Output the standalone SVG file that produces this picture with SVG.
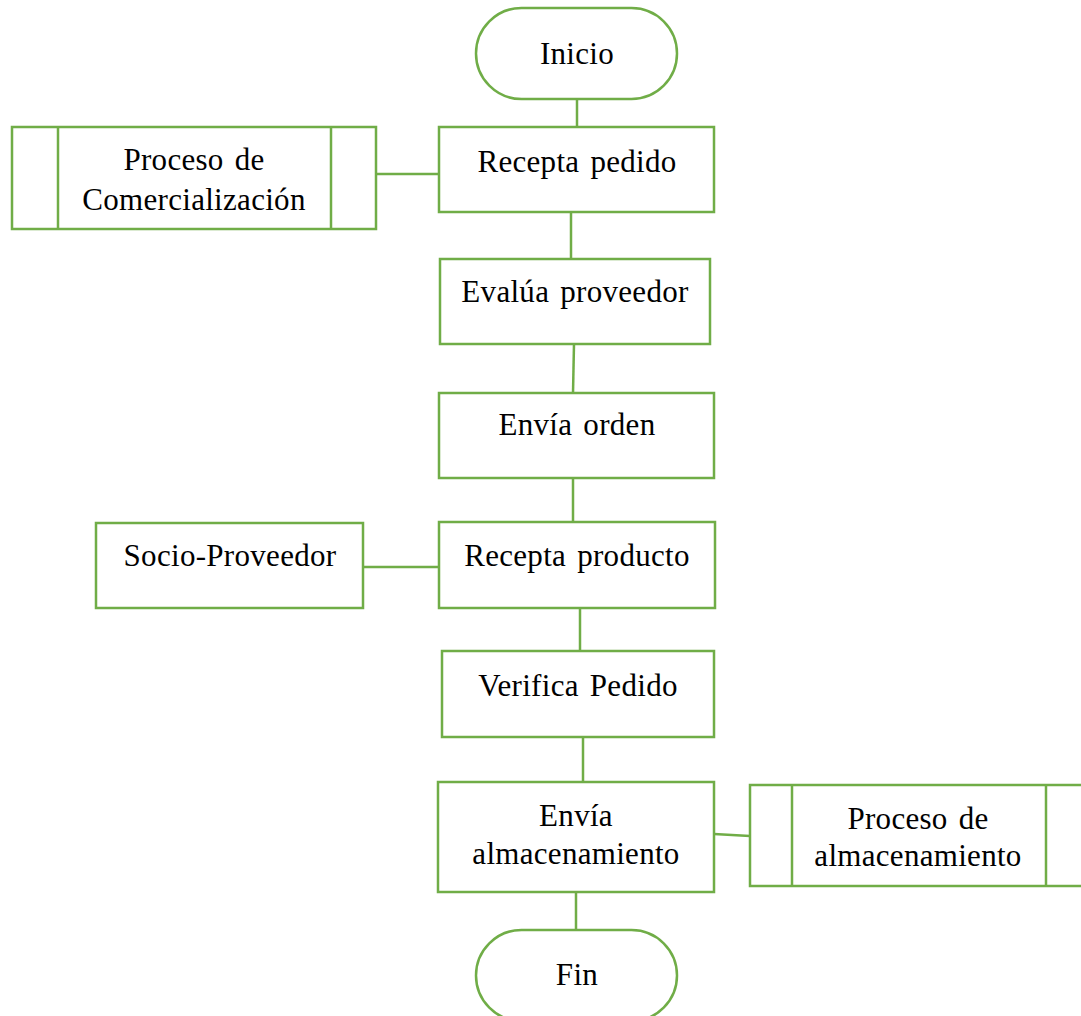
<svg xmlns="http://www.w3.org/2000/svg" width="1081" height="1016" viewBox="0 0 1081 1016">
<style>
.s{fill:#fff;stroke:#70AD47;stroke-width:2.5}
.c{fill:none;stroke:#70AD47;stroke-width:2.5}
.t{font-family:"Liberation Serif","Times New Roman",serif;font-size:31px;fill:#000;text-anchor:middle;letter-spacing:0.3px;word-spacing:3px}
</style>
<rect width="1081" height="1016" fill="#fff"/>
<g id="connectors">
<line class="c" x1="577" y1="99" x2="577" y2="127"/>
<line class="c" x1="376" y1="174" x2="439" y2="174"/>
<line class="c" x1="571" y1="212" x2="571" y2="259"/>
<line class="c" x1="574" y1="344" x2="573" y2="393"/>
<line class="c" x1="573" y1="478" x2="573" y2="522"/>
<line class="c" x1="363" y1="567" x2="439" y2="567"/>
<line class="c" x1="580" y1="608" x2="580" y2="651"/>
<line class="c" x1="583" y1="737" x2="583" y2="782"/>
<line class="c" x1="714" y1="834" x2="750" y2="836"/>
<line class="c" x1="576" y1="892" x2="576" y2="930"/>
</g>
<g id="inicio">
<rect class="s" x="476" y="8" width="201" height="91" rx="45.5" ry="45.5"/>
<text class="t" x="577" y="64">Inicio</text>
</g>
<g id="recepta-pedido">
<rect class="s" x="439" y="127" width="275" height="85"/>
<text class="t" x="577" y="172">Recepta pedido</text>
</g>
<g id="proceso-comercializacion">
<rect class="s" x="12" y="127" width="364" height="102"/>
<line class="c" x1="58" y1="127" x2="58" y2="229"/>
<line class="c" x1="331" y1="127" x2="331" y2="229"/>
<text class="t" x="194" y="170">Proceso de</text>
<text class="t" x="194" y="210">Comercialización</text>
</g>
<g id="evalua-proveedor">
<rect class="s" x="440" y="259" width="270" height="85"/>
<text class="t" x="575" y="302">Evalúa proveedor</text>
</g>
<g id="envia-orden">
<rect class="s" x="439" y="393" width="275" height="85"/>
<text class="t" x="577" y="435">Envía orden</text>
</g>
<g id="recepta-producto">
<rect class="s" x="439" y="522" width="276" height="86"/>
<text class="t" x="577" y="566">Recepta producto</text>
</g>
<g id="socio-proveedor">
<rect class="s" x="96" y="523" width="267" height="85"/>
<text class="t" x="230" y="566">Socio-Proveedor</text>
</g>
<g id="verifica-pedido">
<rect class="s" x="442" y="651" width="272" height="86"/>
<text class="t" x="578" y="696">Verifica Pedido</text>
</g>
<g id="envia-almacenamiento">
<rect class="s" x="438" y="782" width="276" height="110"/>
<text class="t" x="576" y="826">Envía</text>
<text class="t" x="576" y="864">almacenamiento</text>
</g>
<g id="proceso-almacenamiento">
<rect class="s" x="750" y="785" width="340" height="101"/>
<line class="c" x1="792" y1="785" x2="792" y2="886"/>
<line class="c" x1="1046" y1="785" x2="1046" y2="886"/>
<text class="t" x="918" y="829">Proceso de</text>
<text class="t" x="918" y="866">almacenamiento</text>
</g>
<g id="fin">
<rect class="s" x="476" y="930" width="201" height="91" rx="45.5" ry="45.5"/>
<text class="t" x="577" y="985">Fin</text>
</g>
</svg>
